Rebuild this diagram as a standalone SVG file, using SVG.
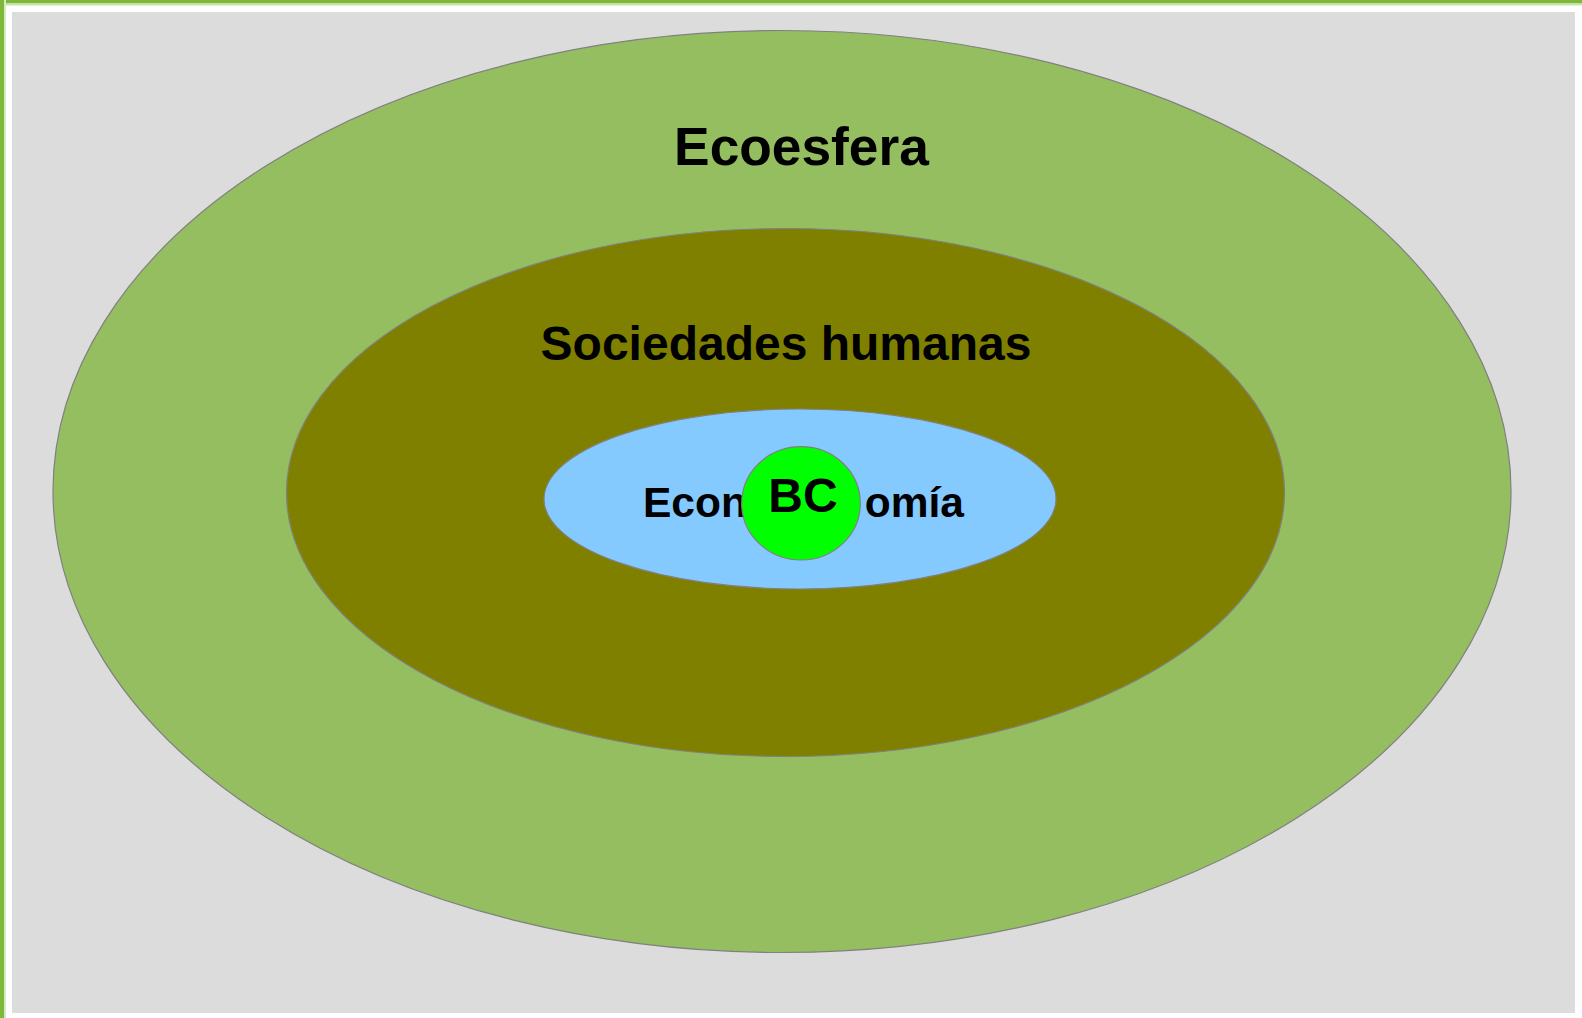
<svg xmlns="http://www.w3.org/2000/svg" width="1582" height="1018" viewBox="0 0 1582 1018">
<style>
.ring{stroke:#808080;stroke-width:1.2}
.lbl{font-family:"Liberation Sans",Arial,sans-serif;font-weight:bold;fill:#000}
</style>
<rect x="0" y="0" width="1582" height="1018" fill="#ffffff"/>
<rect x="0" y="0" width="1582" height="3.5" fill="#7db83a"/>
<rect x="0" y="3.5" width="1582" height="2" fill="#c9e3a6"/>
<rect x="0" y="0" width="4" height="1018" fill="#7db83a"/>
<rect x="4" y="0" width="2" height="1018" fill="#d6ebbd"/>
<rect x="12" y="12" width="1563" height="1001" fill="#dcdcdc"/>
<g id="ecoesfera">
<ellipse class="ring" cx="782" cy="491.5" rx="729" ry="461" fill="#94be5f"/>
<text class="lbl" x="801.5" y="165" font-size="53.3" text-anchor="middle">Ecoesfera</text>
</g>
<g id="sociedades">
<ellipse class="ring" cx="785.5" cy="492.5" rx="499" ry="264" fill="#808000"/>
<text class="lbl" x="786" y="360" font-size="48" text-anchor="middle">Sociedades humanas</text>
</g>
<g id="economia">
<ellipse class="ring" cx="800" cy="499" rx="256" ry="90" fill="#85caff"/>
<text class="lbl" x="643" y="517" font-size="42.5">Econ</text>
<text class="lbl" x="964" y="517" font-size="42.5" text-anchor="end">omía</text>
</g>
<g id="bc">
<ellipse class="ring" cx="801" cy="503.3" rx="59.3" ry="56.7" fill="#00ff00"/>
<text class="lbl" x="803" y="512" font-size="48" text-anchor="middle">BC</text>
</g>
<g id="connectors"/>
</svg>
